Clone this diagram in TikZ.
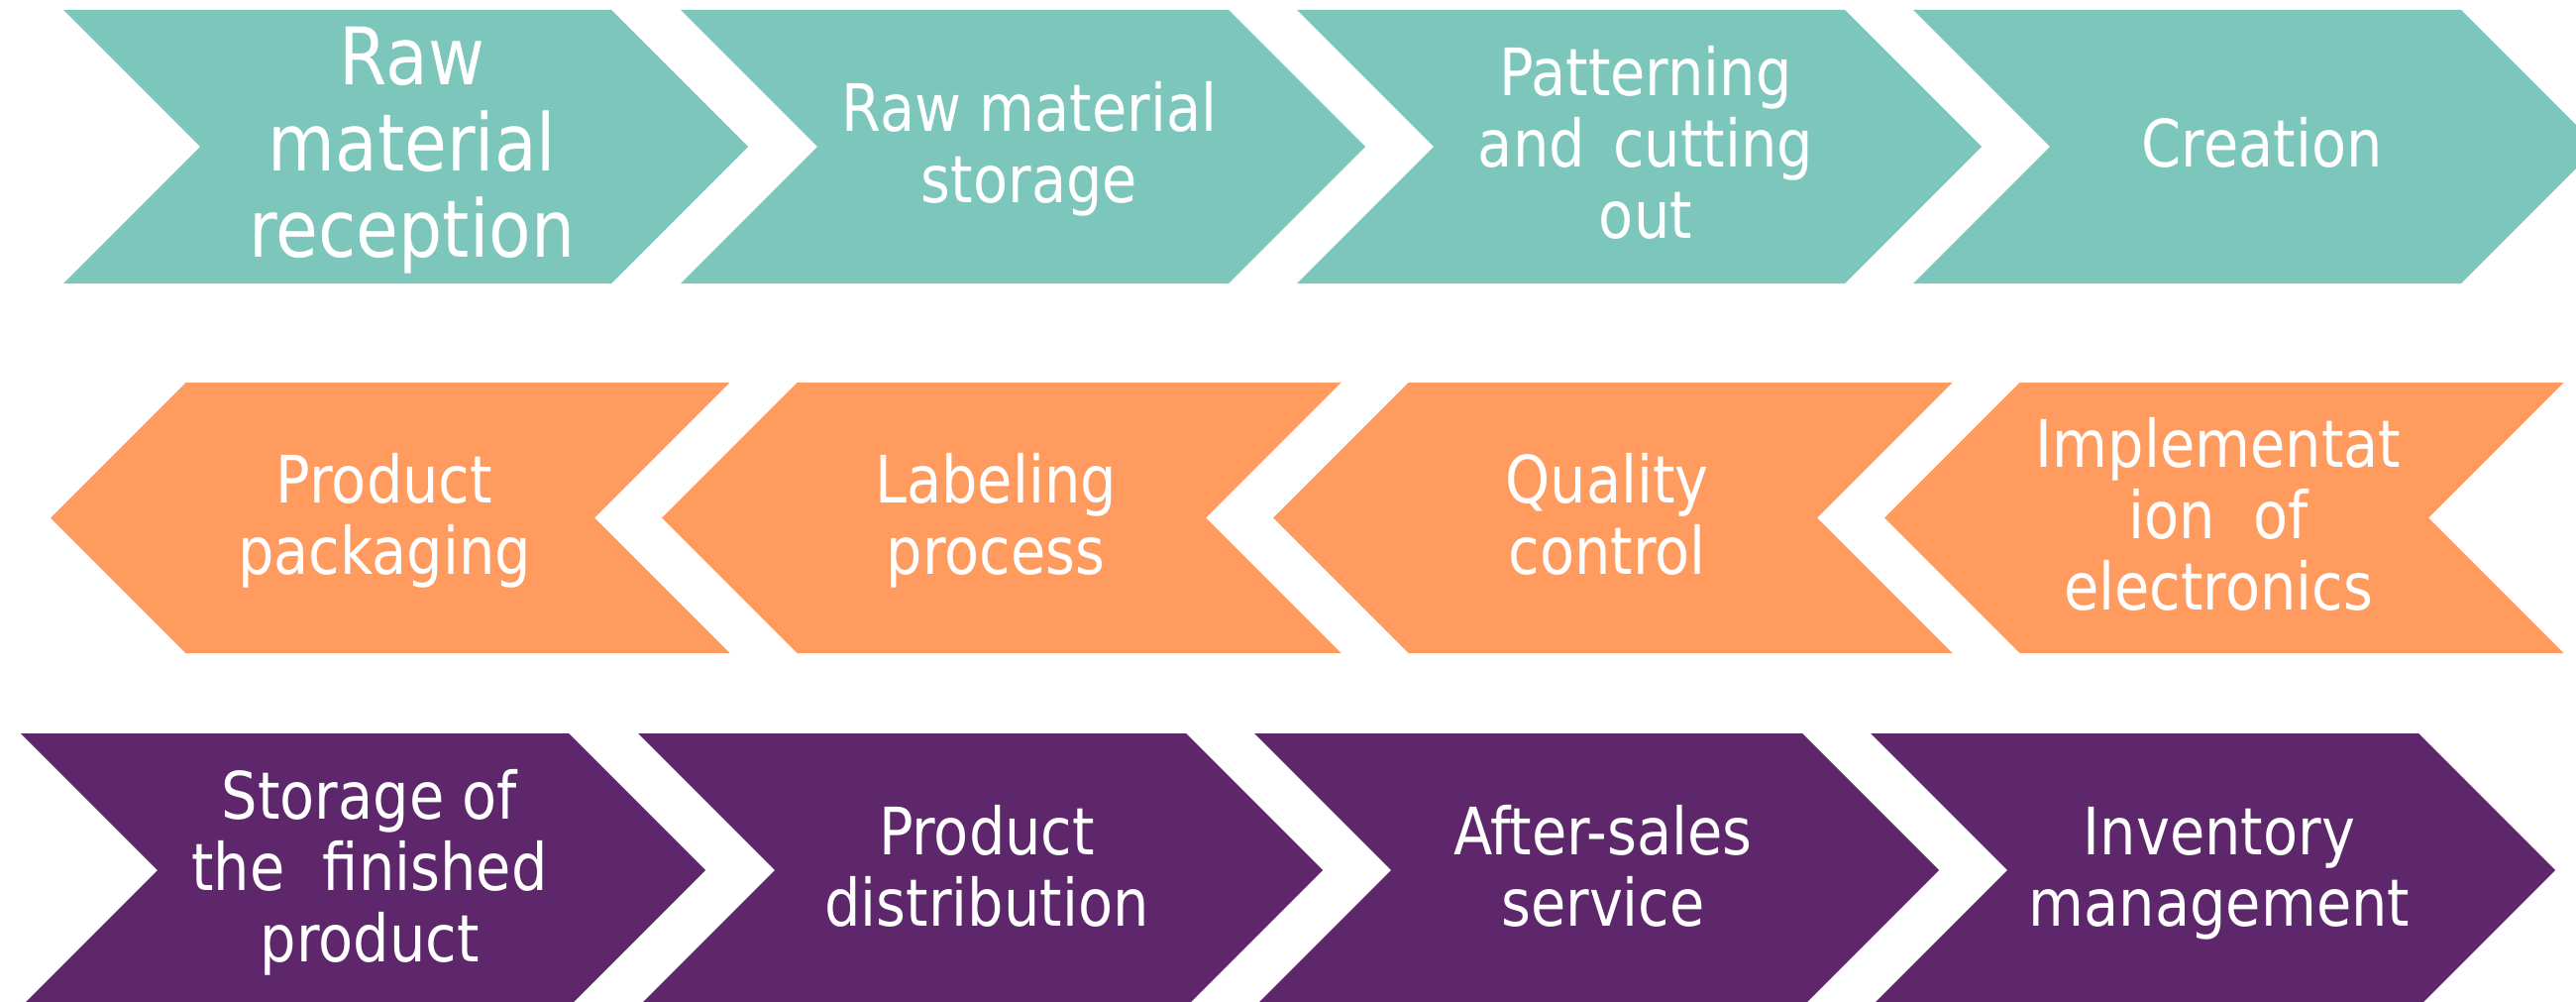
\documentclass[tikz,border=0pt]{standalone}
\usepackage{fontspec}
\setmainfont{DejaVu Sans}[FakeStretch=0.87]
\definecolor{tealc}{RGB}{124,198,188}
\definecolor{orangec}{RGB}{255,155,94}
\definecolor{purplec}{RGB}{94,38,107}
\newcommand\rchev[3]{\fill[#1] (#2,#3) -- ++(553,0) -- ++(138,138) -- ++(-138,138) -- ++(-553,0) -- ++(138,-138) -- cycle;}
\newcommand\lchev[3]{\fill[#1] (#2,#3) -- ++(136.5,-136.5) -- ++(549,0) -- ++(-136.5,136.5) -- ++(136.5,136.5) -- ++(-549,0) -- cycle;}
\newcommand\ls{\rule[-0.29em]{0pt}{1.07em}}
\tikzset{
  lbl/.style={text=white, align=center, inner sep=0pt, anchor=center, font=\fontsize{66}{72}\selectfont},
  biglbl/.style={lbl, font=\fontsize{80}{87}\selectfont}
}
\begin{document}
\begin{tikzpicture}[x=1pt,y=-1pt]
\useasboundingbox (0,0) rectangle (2600,1011);
\clip (0,0) rectangle (2600,1011);
% row 1
\rchev{tealc}{64}{10}
\rchev{tealc}{687}{10}
\rchev{tealc}{1309}{10}
\rchev{tealc}{1931}{10}
% row 2 (tip coordinates)
\lchev{orangec}{51}{522.5}
\lchev{orangec}{668}{522.5}
\lchev{orangec}{1285}{522.5}
\lchev{orangec}{1902}{522.5}
% row 3
\rchev{purplec}{21}{740}
\rchev{purplec}{644}{740}
\rchev{purplec}{1266}{740}
\rchev{purplec}{1888}{740}
% labels
\node[biglbl] (t1) at (416,152.5) {\ls Raw\\\ls material\\\ls reception};
\node[lbl] (t2) at (1039,152.5) {\ls Raw material\\\ls storage};
\node[lbl] (t3) at (1661,152.5) {\ls Patterning\\\ls and\hspace{10pt} cutting\\\ls out};
\node[lbl] (t4) at (2283,152.5) {\ls Creation};
\node[lbl] (t5) at (388,527) {\ls Product\\\ls packaging};
\node[lbl] (t6) at (1005,527) {\ls Labeling\\\ls process};
\node[lbl] (t7) at (1622,527) {\ls Quality\\\ls control};
\node[lbl] (t8) at (2239,527) {\ls Implementat\\\ls ion\hspace{20pt} of\\\ls electronics};
\node[lbl] (t9) at (373,882.5) {\ls Storage of\\\ls the\hspace{20pt} finished\\\ls product};
\node[lbl] (t10) at (996,882.5) {\ls Product\\\ls distribution};
\node[lbl] (t11) at (1618,882.5) {\ls After-sales\\\ls service};
\node[lbl] (t12) at (2240,882.5) {\ls Inventory\\\ls management};
\end{tikzpicture}
\end{document}
